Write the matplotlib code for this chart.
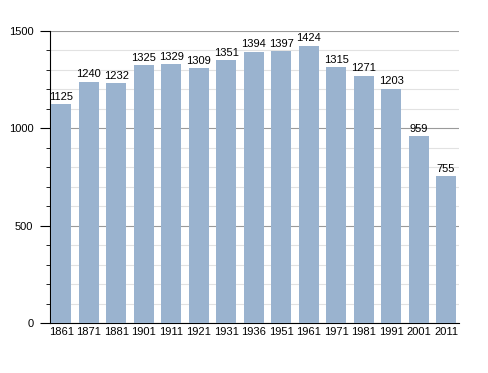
import matplotlib
matplotlib.use("Agg")
import matplotlib.pyplot as plt
from matplotlib.ticker import MultipleLocator

years = ["1861", "1871", "1881", "1901", "1911", "1921", "1931", "1936",
         "1951", "1961", "1971", "1981", "1991", "2001", "2011"]
population = [1125, 1240, 1232, 1325, 1329, 1309, 1351, 1394,
              1397, 1424, 1315, 1271, 1203, 959, 755]

plt.rcParams['font.family'] = ['Liberation Sans', 'DejaVu Sans']

fig = plt.figure(figsize=(4.88, 3.73), dpi=100)
ax = fig.add_axes([0.1025, 0.134, 0.838, 0.783])

x = list(range(len(years)))
ax.bar(x, population, width=0.73, color="#9ab3cf", zorder=3)
for xi, v in zip(x, population):
    ax.text(xi, v + 12, str(v), ha="center", va="bottom", fontsize=8, zorder=4)

ax.set_xlim(-0.41, len(years) - 0.53)
ax.set_ylim(0, 1500)
ax.set_xticks(x)
ax.set_xticklabels(years, fontsize=8)
ax.tick_params(axis="x", length=0, pad=3)
ax.yaxis.set_major_locator(MultipleLocator(500))
ax.yaxis.set_minor_locator(MultipleLocator(100))
ax.tick_params(axis="y", which="major", length=7, labelsize=8, direction="out", pad=5)
ax.tick_params(axis="y", which="minor", length=3, direction="out")
ax.grid(axis="y", which="major", color="#9a9a9a", linewidth=0.8, zorder=0)
ax.grid(axis="y", which="minor", color="#e2e2e2", linewidth=0.8, zorder=0)
for s in ["top", "right"]:
    ax.spines[s].set_visible(False)
ax.spines["left"].set_color("black")
ax.spines["bottom"].set_color("black")

fig.savefig("out.png", dpi=100)
